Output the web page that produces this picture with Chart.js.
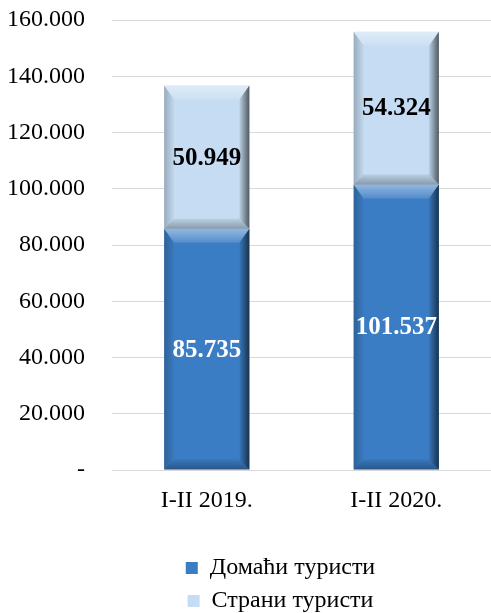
<!DOCTYPE html>
<html>
<head>
<meta charset="utf-8">
<script src="https://cdn.jsdelivr.net/npm/chart.js@4"></script>
<style>
html,body{margin:0;padding:0;background:#fff;overflow:hidden;}
#wrap{width:491px;height:613px;position:relative;}
</style>
</head>
<body>
<div id="wrap"><canvas id="c" width="491" height="613"></canvas></div>
<script>
const categories = ['I-II 2019.', 'I-II 2020.'];
const domestic = [85735, 101537];
const foreign = [50949, 54324];
const seriesNames = ['Домаћи туристи', 'Страни туристи'];
const yTicks = [0, 20000, 40000, 60000, 80000, 100000, 120000, 140000, 160000];

const FONT = '"Liberation Serif", "Times New Roman", serif';
const fmt = v => v === 0 ? '-' : v.toLocaleString('en-US').replace(/,/g, '.');

const bevelPlugin = {
  id: 'bevel',
  afterInit(chart) {
    const lg = chart.legend;
    if (lg) {
      const origFit = lg.fit.bind(lg);
      lg.fit = function () {
        const mw = this.maxWidth;
        this.maxWidth = 300;
        origFit();
        this.maxWidth = mw;
        this.width = mw;
        this.height = 66;
      };
    }
  },
  afterLayout(chart) {
    const lg = chart.legend;
    if (lg) { lg.left += 70; }
  },
  afterDatasetsDraw(chart) {
    const ctx = chart.ctx;
    chart.data.datasets.forEach((ds, di) => {
      const meta = chart.getDatasetMeta(di);
      meta.data.forEach(el => {
        const p = el.getProps(['x', 'y', 'base', 'width'], true);
        const L = p.x - p.width / 2, R = p.x + p.width / 2;
        const T = Math.min(p.y, p.base), B = Math.max(p.y, p.base);
        const d = 10, dt = 14;
        ctx.save();
        let g = ctx.createLinearGradient(0, T, 0, T + dt);
        g.addColorStop(0, 'rgba(255,255,255,0.45)');
        g.addColorStop(1, 'rgba(255,255,255,0.12)');
        ctx.fillStyle = g;
        ctx.beginPath();
        ctx.moveTo(L, T); ctx.lineTo(R, T); ctx.lineTo(R - d, T + dt); ctx.lineTo(L + d, T + dt); ctx.closePath();
        ctx.fill();
        g = ctx.createLinearGradient(L, 0, L + d, 0);
        g.addColorStop(0, 'rgba(0,0,0,0.22)');
        g.addColorStop(1, 'rgba(0,0,0,0.02)');
        ctx.fillStyle = g;
        ctx.beginPath();
        ctx.moveTo(L, T); ctx.lineTo(L + d, T + dt); ctx.lineTo(L + d, B - d); ctx.lineTo(L, B); ctx.closePath();
        ctx.fill();
        g = ctx.createLinearGradient(R - d, 0, R, 0);
        g.addColorStop(0, 'rgba(0,0,0,0.05)');
        g.addColorStop(1, 'rgba(0,0,0,0.6)');
        ctx.fillStyle = g;
        ctx.beginPath();
        ctx.moveTo(R, T); ctx.lineTo(R, B); ctx.lineTo(R - d, B - d); ctx.lineTo(R - d, T + dt); ctx.closePath();
        ctx.fill();
        g = ctx.createLinearGradient(0, B - d, 0, B);
        g.addColorStop(0, 'rgba(0,0,0,0.06)');
        g.addColorStop(1, 'rgba(0,0,0,0.3)');
        ctx.fillStyle = g;
        ctx.beginPath();
        ctx.moveTo(L, B); ctx.lineTo(R, B); ctx.lineTo(R - d, B - d); ctx.lineTo(L + d, B - d); ctx.closePath();
        ctx.fill();
        ctx.restore();
      });
    });
    chart.data.datasets.forEach((ds, di) => {
      const meta = chart.getDatasetMeta(di);
      meta.data.forEach((el, i) => {
        const p = el.getProps(['x', 'y', 'base'], true);
        ctx.save();
        ctx.font = 'bold 25px ' + FONT;
        ctx.fillStyle = di === 0 ? '#ffffff' : '#000000';
        ctx.textAlign = 'center';
        ctx.textBaseline = 'middle';
        ctx.fillText(fmt(ds.data[i]), p.x, (p.y + p.base) / 2 + 1);
        ctx.restore();
      });
    });
  }
};

new Chart(document.getElementById('c'), {
  type: 'bar',
  data: {
    labels: categories,
    datasets: [
      { label: seriesNames[0], data: domestic, backgroundColor: '#3b7dc4', borderWidth: 0 },
      { label: seriesNames[1], data: foreign, backgroundColor: '#c5dcf2', borderWidth: 0 }
    ]
  },
  options: {
    responsive: false,
    animation: false,
    devicePixelRatio: 1,
    layout: { padding: { top: 20, right: 0, bottom: 0, left: 0 } },
    datasets: { bar: { barPercentage: 0.45, categoryPercentage: 1 } },
    scales: {
      x: {
        stacked: true,
        grid: { display: false, drawTicks: false },
        border: { display: false },
        ticks: { color: '#000', font: { family: FONT, size: 24 }, padding: 16 },
        afterFit: s => { s.height = 77; s.paddingLeft = 0; s.paddingRight = 0; }
      },
      y: {
        stacked: true,
        min: 0,
        max: 160000,
        afterBuildTicks: s => { s.ticks = yTicks.map(v => ({ value: v })); },
        grid: { color: '#d9d9d9', lineWidth: 1, drawTicks: false },
        border: { display: false },
        ticks: { color: '#000', font: { family: FONT, size: 24 }, padding: 27, callback: v => fmt(v) },
        afterFit: s => { s.width = 112; s.paddingTop = 0; s.paddingBottom = 0; }
      }
    },
    plugins: {
      legend: {
        position: 'bottom',
        labels: {
          color: '#000',
          font: { family: FONT, size: 24 },
          boxWidth: 12,
          boxHeight: 12,
          padding: 9
        }
      },
      tooltip: { enabled: false }
    }
  },
  plugins: [bevelPlugin]
});
</script>
</body>
</html>
